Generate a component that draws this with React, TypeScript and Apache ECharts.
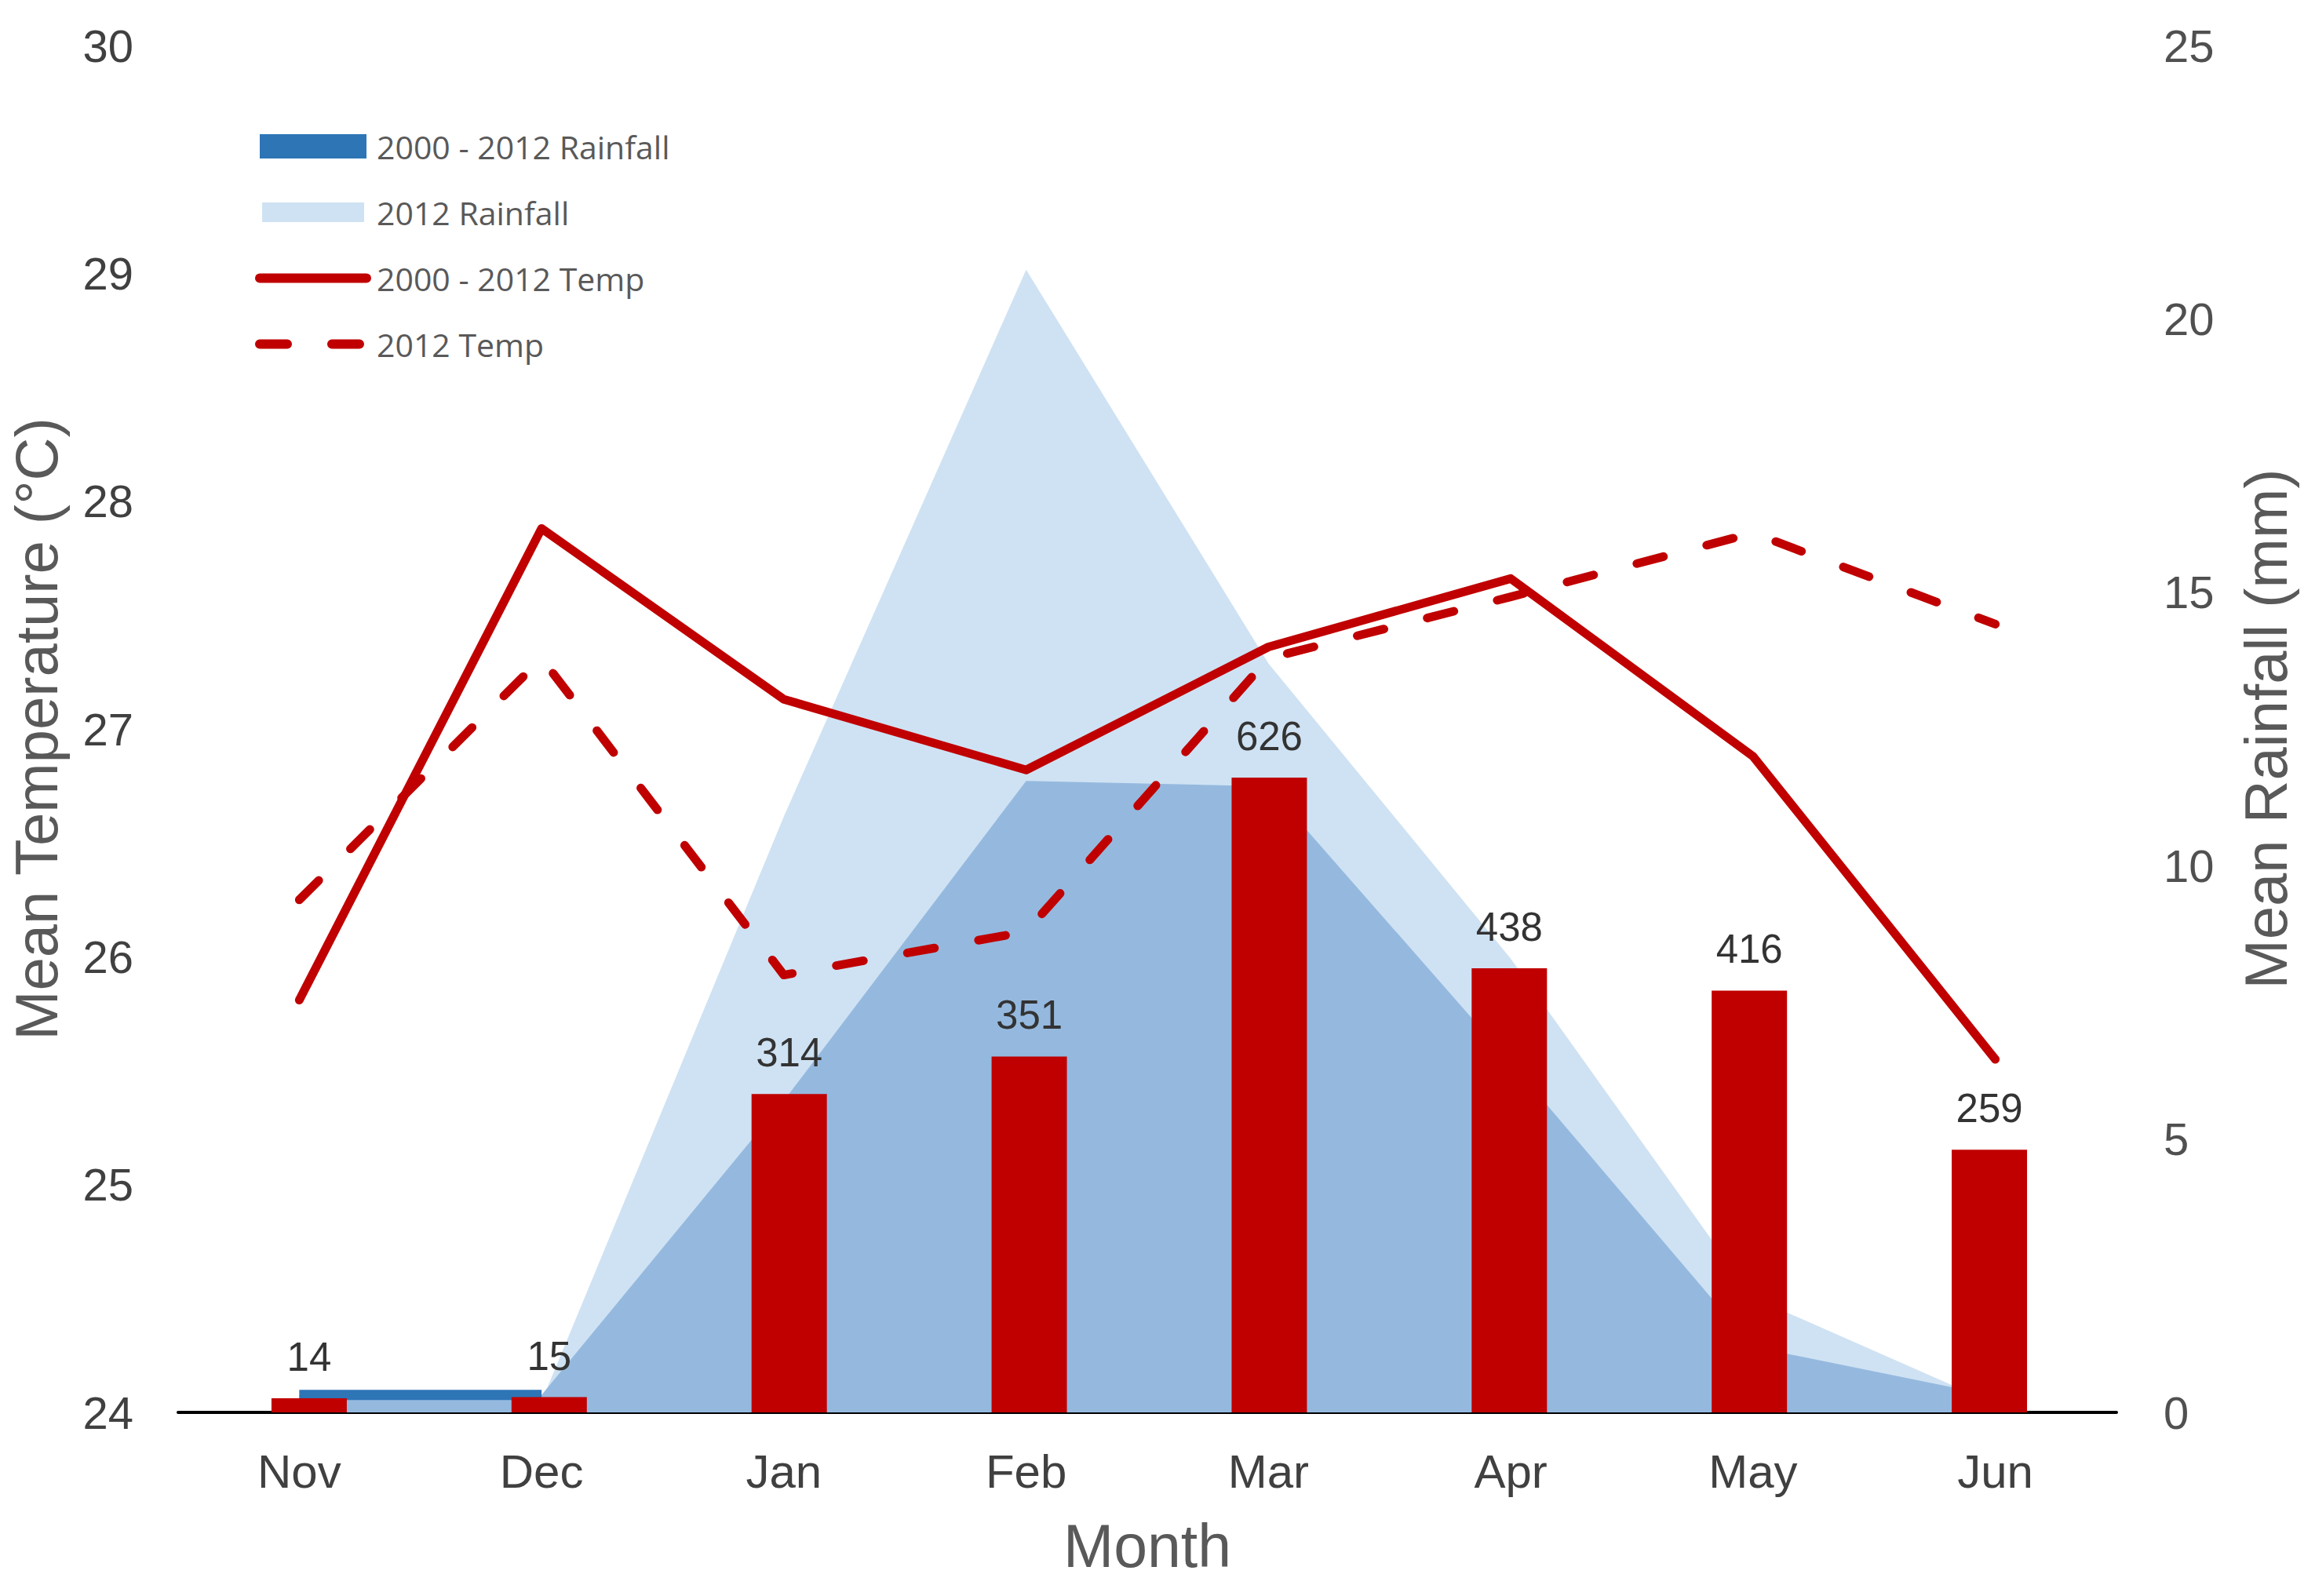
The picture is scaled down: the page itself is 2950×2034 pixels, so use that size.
import React, { useEffect, useRef } from "react";
import * as echarts from "echarts";

// ---- data ----
const months = ["Nov", "Dec", "Jan", "Feb", "Mar", "Apr", "May", "Jun"];
const tempAvg = [25.81, 27.88, 27.13, 26.82, 27.36, 27.66, 26.88, 25.55];
const temp2012 = [26.25, 27.31, 25.92, 26.11, 27.31, 27.58, 27.86, 27.46];
const rainAvg = [0.32, 0.32, 5.7, 11.55, 11.45, 6.4, 1.2, 0.3];
const rain2012 = [0.1, 0.2, 10.9, 20.9, 13.7, 8.3, 2.1, 0.15];
const barValues = [14, 15, 314, 351, 626, 438, 416, 259];
const tempRange = [24, 30, 1];
const rainRange = [0, 25, 5];
const barRange = [0, 1348];

const FONT = "'Liberation Sans', Arial, sans-serif";
const LEGEND_FONT = "'Open Sans', 'Noto Sans', sans-serif";
const RED = "#C00000";

export default function App() {
  const ref = useRef<HTMLDivElement>(null);

  useEffect(() => {
    if (!ref.current) return;
    const chart = echarts.init(ref.current, undefined, { renderer: "svg" });
    const option: any = {
      animation: false,
      backgroundColor: "#ffffff",
      grid: [
        { left: 226, right: 253, top: 58, bottom: 234 },
        { left: 241, right: 262, top: 58, bottom: 234 },
      ],
      legend: {
        orient: "vertical",
        left: 325,
        top: 166,
        padding: 0,
        itemWidth: 136,
        itemHeight: 31,
        itemGap: 43,
        selectedMode: false,
        textStyle: {
          fontSize: 41,
          color: "#595959",
          fontFamily: LEGEND_FONT,
          lineHeight: 31,
          padding: [0, 0, 0, 8],
        },
        data: [
          { name: "2000 - 2012 Rainfall", icon: "rect", itemStyle: { color: "#2E75B6" } },
          {
            name: "2012 Rainfall",
            icon: "rect",
            itemStyle: { color: "#CFE2F3", borderColor: "#ffffff", borderWidth: 6 },
          },
          {
            name: "2000 - 2012 Temp",
            itemStyle: { opacity: 0 },
            lineStyle: { width: 12, color: RED, cap: "round", type: "solid" },
          },
          {
            name: "2012 Temp",
            itemStyle: { opacity: 0 },
            lineStyle: { width: 12, color: RED, cap: "round", type: [35, 57] },
          },
        ],
      },
      xAxis: [
        {
          type: "category",
          gridIndex: 0,
          data: months,
          boundaryGap: true,
          axisLine: { show: true, lineStyle: { color: "#000000", width: 4 } },
          axisTick: { show: false },
          axisLabel: { fontSize: 60, color: "#404040", fontFamily: FONT, margin: 45 },
          splitLine: { show: false },
          name: "Month",
          nameLocation: "middle",
          nameGap: 131,
          nameTextStyle: { fontSize: 77, color: "#595959", fontFamily: FONT },
        },
        { type: "category", gridIndex: 1, data: months, show: false },
      ],
      yAxis: [
        {
          type: "value",
          gridIndex: 0,
          position: "left",
          min: tempRange[0],
          max: tempRange[1],
          interval: tempRange[2],
          axisLine: { show: false },
          axisTick: { show: false },
          splitLine: { show: false },
          axisLabel: { fontSize: 58, color: "#404040", fontFamily: FONT, margin: 57 },
          name: "Mean Temperature (°C)",
          nameLocation: "middle",
          nameGap: 143,
          nameTextStyle: { fontSize: 76, color: "#595959", fontFamily: FONT },
        },
        {
          type: "value",
          gridIndex: 0,
          position: "right",
          min: rainRange[0],
          max: rainRange[1],
          interval: rainRange[2],
          axisLine: { show: false },
          axisTick: { show: false },
          splitLine: { show: false },
          axisLabel: { fontSize: 58, color: "#505050", fontFamily: FONT, margin: 60 },
          name: "Mean Rainfall (mm)",
          nameLocation: "middle",
          nameGap: 152,
          nameTextStyle: { fontSize: 76, color: "#595959", fontFamily: FONT },
        },
        {
          type: "value",
          gridIndex: 1,
          min: barRange[0],
          max: barRange[1],
          show: false,
          splitLine: { show: false },
        },
      ],
      series: [
        {
          name: "2012 Rainfall",
          type: "line",
          xAxisIndex: 0,
          yAxisIndex: 1,
          data: rain2012,
          symbol: "none",
          lineStyle: { width: 0, color: "#CFE2F3" },
          itemStyle: { color: "#CFE2F3" },
          areaStyle: { color: "#CFE2F3", opacity: 1 },
          z: 1,
        },
        {
          name: "2000 - 2012 Rainfall",
          type: "line",
          xAxisIndex: 0,
          yAxisIndex: 1,
          data: rainAvg,
          symbol: "none",
          lineStyle: { width: 0, color: "#95B9DE" },
          itemStyle: { color: "#2E75B6" },
          areaStyle: { color: "#95B9DE", opacity: 1 },
          z: 1,
        },
        {
          name: "rain-edge",
          type: "line",
          xAxisIndex: 0,
          yAxisIndex: 1,
          data: rainAvg.map((v, i) => (i < 2 ? v : "-")),
          symbol: "none",
          lineStyle: { width: 13, color: "#2E75B6", cap: "butt" },
          z: 2,
        },
        {
          name: "Bars",
          type: "bar",
          xAxisIndex: 1,
          yAxisIndex: 2,
          data: barValues,
          barWidth: 96,
          itemStyle: { color: RED },
          label: {
            show: true,
            position: "top",
            distance: 27,
            fontSize: 51,
            color: "#333333",
            fontFamily: FONT,
          },
          z: 3,
        },
        {
          name: "2000 - 2012 Temp",
          type: "line",
          xAxisIndex: 0,
          yAxisIndex: 0,
          data: tempAvg,
          symbol: "none",
          itemStyle: { color: RED },
          lineStyle: { width: 11, color: RED, cap: "round", join: "round" },
          z: 4,
        },
        {
          name: "2012 Temp",
          type: "line",
          xAxisIndex: 0,
          yAxisIndex: 0,
          data: temp2012,
          symbol: "none",
          itemStyle: { color: RED },
          lineStyle: { width: 11, color: RED, type: [35, 57], cap: "round", join: "round" },
          z: 4,
        },
      ],
    };
    chart.setOption(option);
    return () => chart.dispose();
  }, []);

  return (
    <div
      ref={ref}
      style={{ position: "absolute", left: 0, top: 0, width: 2950, height: 2034, background: "#fff" }}
    />
  );
}
